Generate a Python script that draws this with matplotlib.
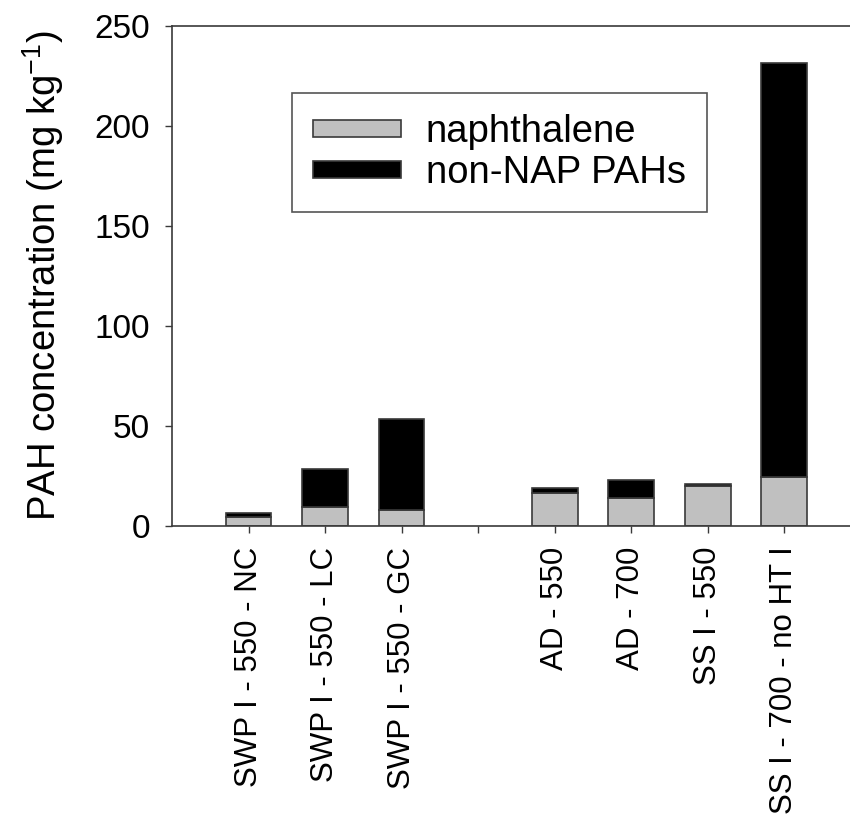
import numpy as np
import matplotlib
matplotlib.use("Agg")
import matplotlib.pyplot as plt

plt.rcParams['font.family'] = ['Liberation Sans', 'DejaVu Sans']
plt.rcParams['mathtext.fontset'] = 'custom'
plt.rcParams['mathtext.rm'] = 'Liberation Sans'
plt.rcParams['mathtext.it'] = 'Liberation Sans'

# --- data (mg/kg) ---
# empty string = blank slot between the two groups
categories = ["SWP I - 550 - NC", "SWP I - 550 - LC", "SWP I - 550 - GC", "",
              "AD - 550", "AD - 700", "SS I - 550", "SS I - 700 - no HT I"]
naphthalene = [4.2, 9.5, 7.7, np.nan, 16.5, 13.7, 19.8, 24.5]
non_nap_pahs = [2.0, 18.7, 45.6, np.nan, 2.5, 9.0, 1.0, 206.7]
y_ticks = [0, 50, 100, 150, 200, 250]

fig = plt.figure(figsize=(8.5, 8.14), dpi=100)
W, H = 850, 814
# axes: left spine at x=172, 0 at y=525.7, 250 at y=25.7; runs past the right edge
ax_w = 860.6 - 172
ax = fig.add_axes([172 / W, (H - 525.7) / H, ax_w / W, 500 / H])

x = np.arange(len(categories))
naph = np.array(naphthalene)
rest = np.array(non_nap_pahs)
ok = ~np.isnan(naph)

edge = "#3a3a3a"
ax.bar(x[ok], naph[ok], width=0.6, color="#c0c0c0", edgecolor=edge,
       linewidth=1.2, label="naphthalene")
ax.bar(x[ok], rest[ok], width=0.6, bottom=naph[ok], color="black",
       edgecolor=edge, linewidth=1.2, label="non-NAP PAHs")

ax.set_xlim(-1, 8)
ax.set_ylim(0, 250)
ax.set_yticks(y_ticks)
ax.set_xticks(x)
ax.set_xticklabels(categories, rotation=90, fontsize=22.5)
ax.tick_params(axis='y', labelsize=24, length=5, width=1, direction='out', pad=11, color=edge)
ax.tick_params(axis='x', length=5, width=1, direction='out', pad=10, color=edge)

for side in ["left", "bottom", "top"]:
    ax.spines[side].set_color(edge)
    ax.spines[side].set_linewidth(1.2)
ax.spines["right"].set_visible(False)

ax.set_ylabel("PAH concentration (mg kg$^{-1}$)", fontsize=27.5)
ax.yaxis.set_label_coords((66 - 172) / ax_w, 0.5)

leg = ax.legend(loc="upper left", bbox_to_anchor=(292 / W, 1 - 93 / H),
                bbox_transform=fig.transFigure, borderaxespad=0,
                fontsize=27.5, frameon=True, fancybox=False, framealpha=1,
                edgecolor="#555555", handlelength=2.3, handleheight=0.3,
                handletextpad=0.65, labelspacing=0.14, borderpad=0.55)
leg.get_frame().set_linewidth(1.2)

fig.savefig("out.png", dpi=100)
